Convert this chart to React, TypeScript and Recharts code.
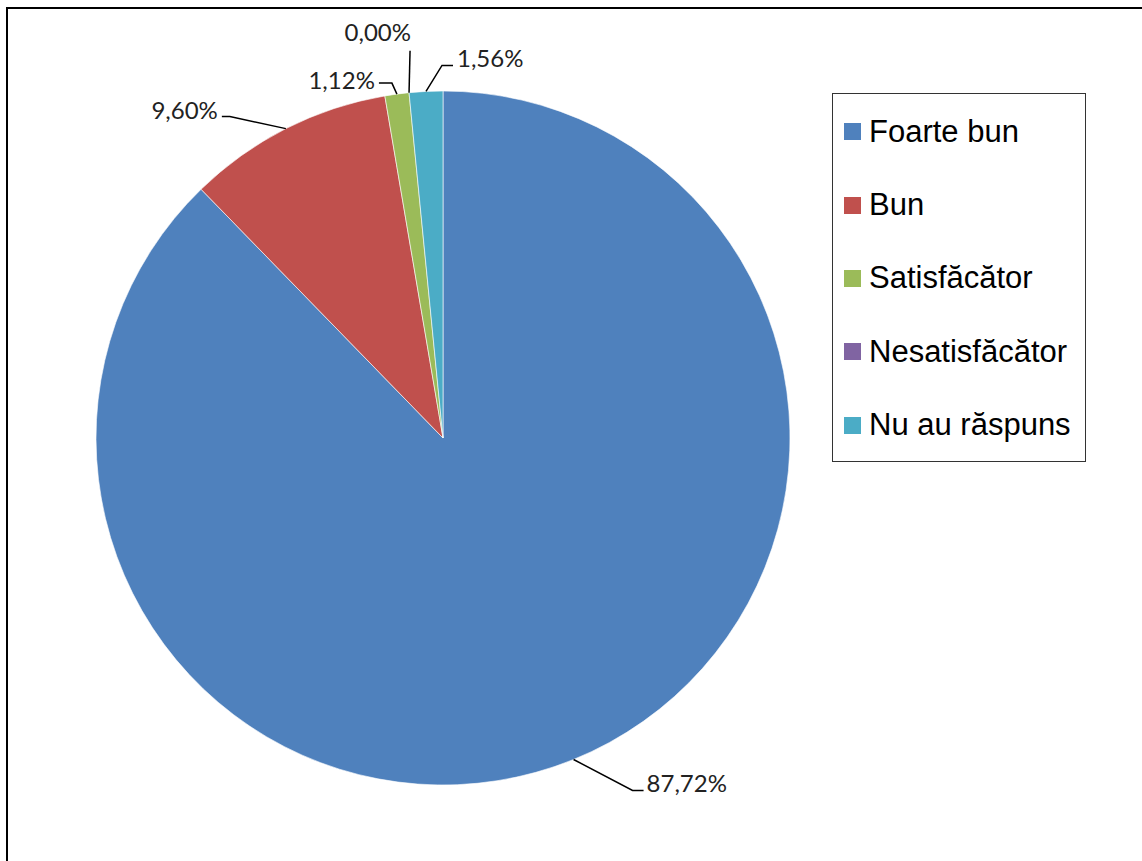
import React from 'react';
import { PieChart, Pie, Cell, Legend } from 'recharts';

// Share of answers, in percent
const categories = ['Foarte bun', 'Bun', 'Satisfăcător', 'Nesatisfăcător', 'Nu au răspuns'];
const shares = [87.72, 9.6, 1.12, 0.0, 1.56];
const colors = ['#4F81BD', '#C0504D', '#9BBB59', '#8064A2', '#4BACC6'];

const data = categories.map((name, i) => ({ name, value: shares[i] }));

// leader line elbow / tail and label text offsets, relative to the slice edge point
const labelLayout = [
  { elbow: [59, 31], tail: 11, text: [73, 23], anchor: 'start' },
  { elbow: [-56, -12], tail: -8, text: [-68, -19], anchor: 'end' },
  { elbow: [-5, -11], tail: -13, text: [-22, -15], anchor: 'end' },
  { elbow: [1, -42], tail: 0, text: [2, -61], anchor: 'end' },
  { elbow: [16, -26], tail: 11, text: [31, -34], anchor: 'start' },
];

const RADIAN = Math.PI / 180;

const renderLabel = (props: any) => {
  const { cx, cy, midAngle, outerRadius, index, value } = props;
  const lay = labelLayout[index];
  if (!lay) return null;
  const ex = cx + outerRadius * Math.cos(-midAngle * RADIAN);
  const ey = cy + outerRadius * Math.sin(-midAngle * RADIAN);
  const bx = ex + lay.elbow[0];
  const by = ey + lay.elbow[1];
  const tx = bx + lay.tail;
  const txt = Number(value).toFixed(2).replace('.', ',') + '%';
  return (
    <g key={`lbl-${index}`}>
      <polyline
        points={`${ex},${ey} ${bx},${by} ${tx},${by}`}
        fill="none"
        stroke="#000"
        strokeWidth={1.5}
      />
      <text
        x={ex + lay.text[0]}
        y={ey + lay.text[1]}
        textAnchor={lay.anchor as any}
        dominantBaseline="central"
        fontFamily="Lato, 'Open Sans', sans-serif"
        fontSize={24}
        fill="#222"
      >
        {txt}
      </text>
    </g>
  );
};

const LegendBox = () => (
  <div
    style={{
      width: 252,
      height: 366,
      border: '1.5px solid #333',
      background: '#fff',
      paddingTop: 1,
      boxSizing: 'content-box',
    }}
  >
    {categories.map((c, i) => (
      <div
        key={c}
        style={{
          height: 73.4,
          display: 'flex',
          alignItems: 'center',
          fontFamily: "'Liberation Sans', Arial, sans-serif",
          fontSize: 31,
          color: '#000',
          whiteSpace: 'nowrap',
        }}
      >
        <span
          style={{
            display: 'inline-block',
            width: 17,
            height: 17,
            background: colors[i],
            marginLeft: 11,
            marginRight: 8,
          }}
        />
        {c}
      </div>
    ))}
  </div>
);

export default function App() {
  return (
    <div
      style={{
        position: 'fixed',
        left: 0,
        top: 0,
        width: 1142,
        height: 861,
        overflow: 'hidden',
        background: '#fff',
      }}
    >
      <div
        style={{
          position: 'absolute',
          left: 6,
          top: 7,
          width: 1200,
          height: 900,
          borderTop: '2.5px solid #000',
          borderLeft: '2.5px solid #000',
        }}
      />
      <div style={{ position: 'absolute', left: 0, top: 0 }}>
        <PieChart width={1142} height={861} margin={{ top: 0, right: 0, bottom: 0, left: 0 }}>
          <Pie
            data={data}
            dataKey="value"
            nameKey="name"
            cx={443}
            cy={438}
            outerRadius={347}
            startAngle={90}
            endAngle={-270}
            stroke="#fff"
            strokeWidth={0.6}
            label={renderLabel}
            labelLine={false}
            isAnimationActive={false}
          >
            {data.map((d, i) => (
              <Cell key={d.name} fill={colors[i]} />
            ))}
          </Pie>
          <Legend
            content={() => <LegendBox />}
            wrapperStyle={{ position: 'absolute', left: 832, top: 93, width: 256, height: 370 }}
          />
        </PieChart>
      </div>
    </div>
  );
}
